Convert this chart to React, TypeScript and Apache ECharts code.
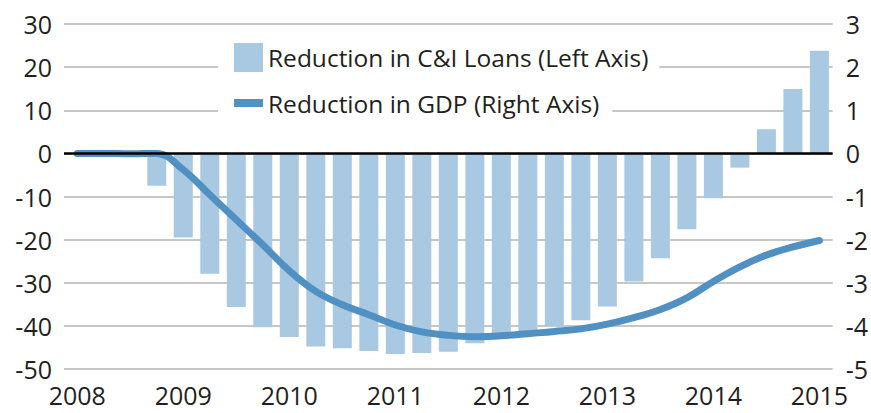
import React, { useEffect, useRef } from "react";
import * as echarts from "echarts";

const quarters = [
  "2008 Q1", "2008 Q2", "2008 Q3", "2008 Q4",
  "2009 Q1", "2009 Q2", "2009 Q3", "2009 Q4",
  "2010 Q1", "2010 Q2", "2010 Q3", "2010 Q4",
  "2011 Q1", "2011 Q2", "2011 Q3", "2011 Q4",
  "2012 Q1", "2012 Q2", "2012 Q3", "2012 Q4",
  "2013 Q1", "2013 Q2", "2013 Q3", "2013 Q4",
  "2014 Q1", "2014 Q2", "2014 Q3", "2014 Q4",
  "2015 Q1",
];

const loanReduction = [
  null, null, null, -7.5,
  -19.5, -27.9, -35.6, -40.3,
  -42.6, -44.8, -45.2, -45.8,
  -46.5, -46.3, -46.0, -44.0,
  -42.6, -41.3, -40.0, -38.7,
  -35.5, -29.7, -24.3, -17.6,
  -10.4, -3.3, 5.6, 14.9,
  23.8,
];

const gdpReduction = [
  0, 0, -0.01, 0,
  -0.38, -0.96, -1.54, -2.12,
  -2.72, -3.2, -3.51, -3.74,
  -3.98, -4.14, -4.22, -4.25,
  -4.23, -4.18, -4.13, -4.07,
  -3.96, -3.81, -3.62, -3.35,
  -2.97, -2.63, -2.36, -2.17,
  -2.02,
];

const leftTicks = { min: -50, max: 30, interval: 10 };
const rightTicks = { min: -5, max: 3, interval: 1 };

const loanName = "Reduction in C&I Loans (Left Axis)";
const gdpName = "Reduction in GDP (Right Axis)";

const FONT = "Open Sans";
const TEXT = "#231f20";
const BAR = "#a9c9e2";
const LINE = "#5190c2";

export default function App() {
  const ref = useRef<HTMLDivElement>(null);
  useEffect(() => {
    const chart = echarts.init(ref.current!, null, { renderer: "svg" });
    chart.setOption({
      animation: false,
      backgroundColor: "#ffffff",
      textStyle: { fontFamily: FONT, color: TEXT },
      grid: { left: 64, right: 36, top: 24, bottom: 44 },
      legend: [
        {
          data: [loanName],
          left: 218,
          top: 39,
          padding: [4, 11, 4, 16],
          icon: "rect",
          itemWidth: 29,
          itemHeight: 29,
          backgroundColor: "#ffffff",
          selectedMode: false,
          textStyle: { fontFamily: FONT, fontSize: 24.5, color: TEXT },
        },
        {
          data: [gdpName],
          left: 218,
          top: 85,
          padding: [4, 13, 4, 16],
          icon: "rect",
          itemWidth: 29,
          itemHeight: 8,
          backgroundColor: "#ffffff",
          selectedMode: false,
          textStyle: { fontFamily: FONT, fontSize: 24.5, color: TEXT, lineHeight: 28 },
        },
      ],
      xAxis: {
        type: "category",
        data: quarters,
        boundaryGap: true,
        axisLine: { show: false },
        axisTick: { show: false },
        axisLabel: {
          interval: 3,
          margin: 13,
          fontSize: 25,
          fontFamily: FONT,
          color: TEXT,
          formatter: (v: string) => v.slice(0, 4),
        },
      },
      yAxis: [
        {
          type: "value",
          ...leftTicks,
          axisLine: { show: false },
          axisTick: { show: false },
          axisLabel: { margin: 12, fontSize: 25, fontFamily: FONT, color: TEXT },
          splitLine: { lineStyle: { color: "#b4b4b4", width: 1.5 } },
        },
        {
          type: "value",
          ...rightTicks,
          position: "right",
          axisLine: { show: false },
          axisTick: { show: false },
          axisLabel: { margin: 13, fontSize: 25, fontFamily: FONT, color: TEXT },
          splitLine: { show: false },
        },
      ],
      series: [
        {
          name: loanName,
          type: "bar",
          yAxisIndex: 0,
          data: loanReduction,
          barWidth: 19,
          itemStyle: { color: BAR },
          markLine: {
            silent: true,
            symbol: "none",
            label: { show: false },
            lineStyle: { color: "#000000", width: 2.5, type: "solid" },
            data: [{ yAxis: 0 }],
          },
        },
        {
          name: gdpName,
          type: "line",
          yAxisIndex: 1,
          data: gdpReduction,
          smooth: 0.4,
          showSymbol: false,
          itemStyle: { color: LINE },
          lineStyle: { color: LINE, width: 7, cap: "round" },
        },
      ],
    });
    return () => chart.dispose();
  }, []);
  return (
    <div
      ref={ref}
      style={{ position: "fixed", left: 0, top: 0, width: 871, height: 413 }}
    />
  );
}
